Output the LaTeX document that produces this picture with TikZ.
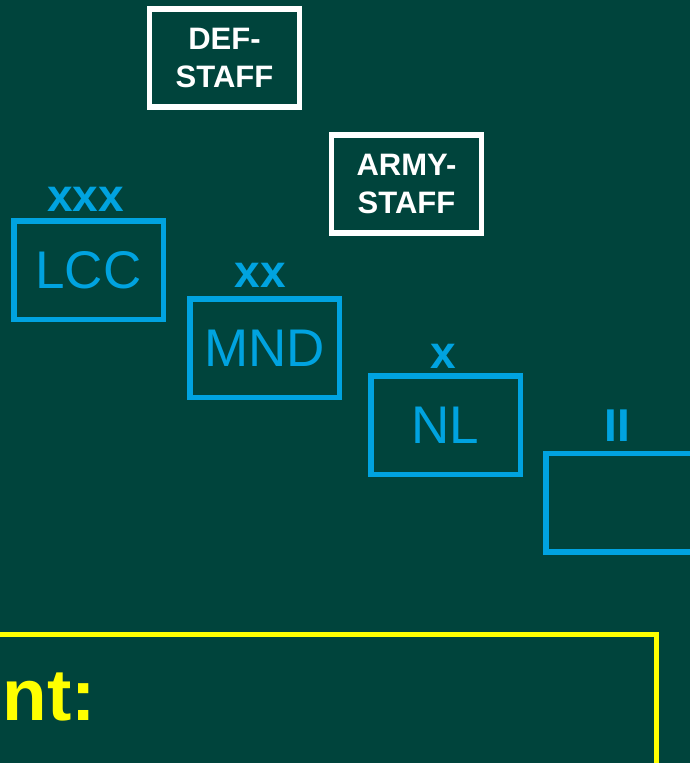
\documentclass[tikz,border=0pt]{standalone}
\usepackage{fontspec}
\setmainfont{Liberation Sans}
\usetikzlibrary{positioning}
\definecolor{armygreen}{RGB}{0,68,60}
\definecolor{unitblue}{RGB}{0,163,224}
\definecolor{noteyellow}{RGB}{255,255,0}

\begin{document}
\begin{tikzpicture}[x=1pt,y=-1pt,
	staffbox/.style={draw=white,line width=5.5pt,minimum width=150pt,minimum height=98pt,inner sep=0pt,text=white,align=center,font=\fontsize{31}{38}\selectfont\bfseries},
	unitbox/.style={draw=unitblue,line width=5.5pt,minimum width=149.5pt,minimum height=98.5pt,inner sep=0pt,text=unitblue,font=\fontsize{53}{60}\selectfont},
	echelon/.style={inner sep=0pt,text=unitblue,font=\fontsize{46}{50}\selectfont\bfseries}]
	\useasboundingbox (0,0) rectangle (690,763);
	\clip (0,0) rectangle (690,763);
	\fill[armygreen] (0,0) rectangle (690,763);

	% note box at the bottom
	\draw[noteyellow,line width=5.5pt] (-20,634.5) rectangle (656.5,800);
	\node[anchor=base east,inner sep=0pt,text=noteyellow,font=\fontsize{73}{78}\selectfont\bfseries] (note) at (96,720) {ent:};

	% staffs
	\node[staffbox] (defstaff) at (224.5,58) {DEF-\\STAFF};
	\node[staffbox] (armystaff) at (406.5,184) {ARMY-\\STAFF};

	% units
	\node[unitbox] (lcc) at (88.5,270) {LCC};
	\node[unitbox] (mnd) at (264.5,348) {MND};
	\node[unitbox] (nl) at (445.5,425) {NL};
	\node[unitbox] (bn) at (620.5,502.5) {};
	\node[echelon, above=6pt of lcc, xshift=-3pt] (lccech) {xxx};
	\node[echelon, above=8pt of mnd, xshift=-4pt] (mndech) {xx};
	\node[echelon, above=4pt of nl, xshift=-2.5pt] (nlech) {x};
	\node[echelon, above=9pt of bn, xshift=-3.5pt] (bnech) {II};
\end{tikzpicture}
\end{document}
